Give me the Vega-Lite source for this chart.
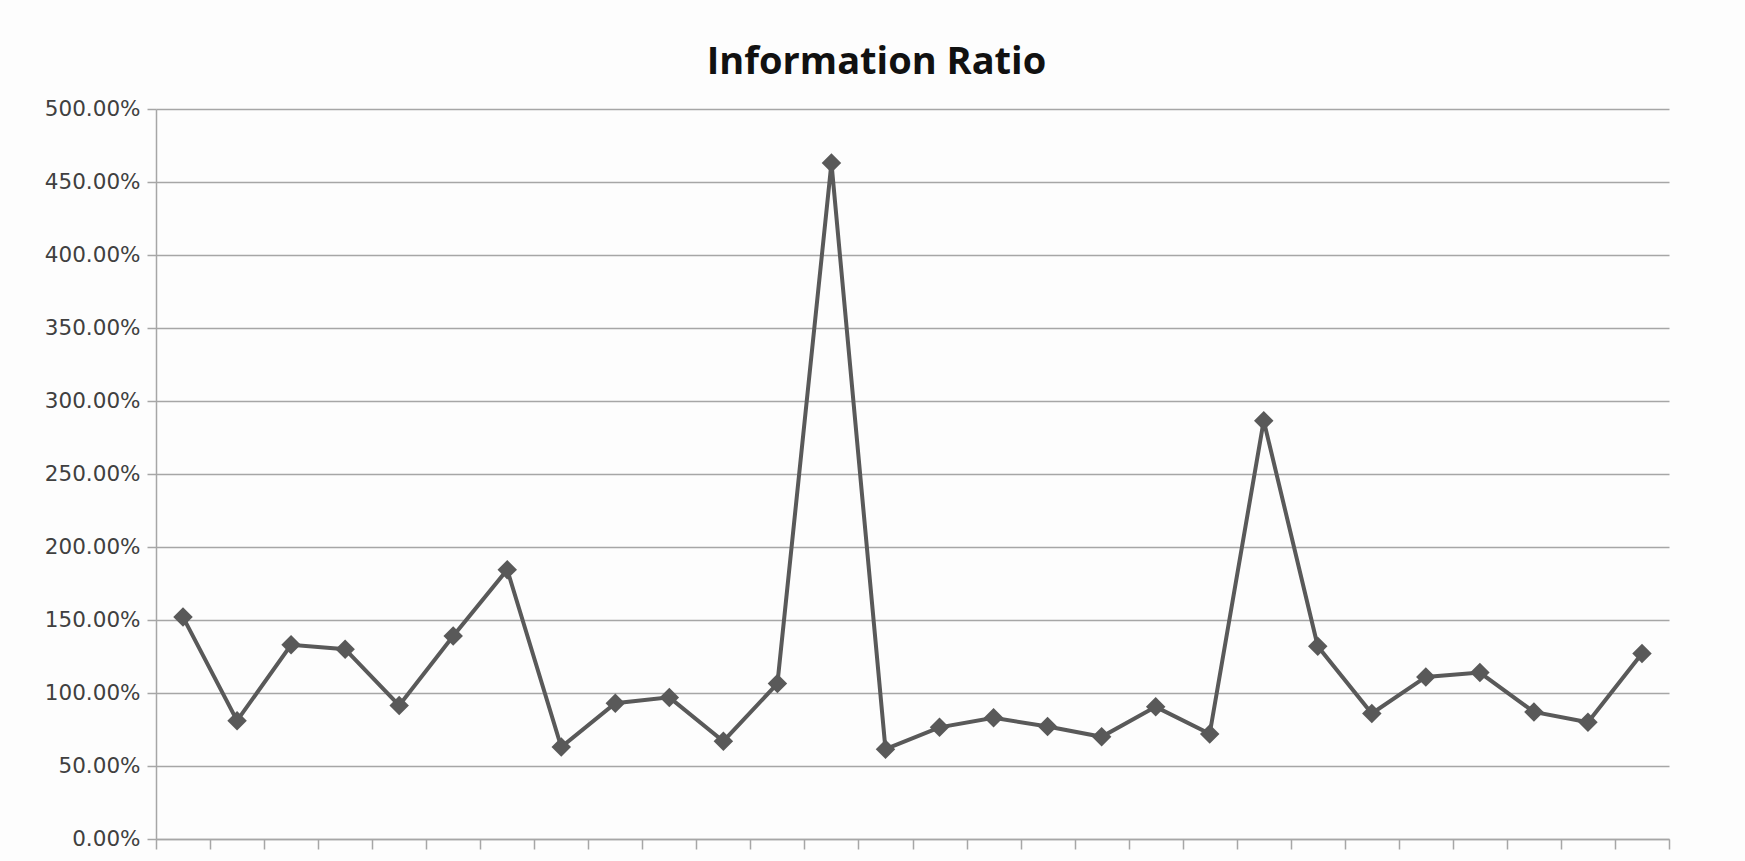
{
  "$schema": "https://vega.github.io/schema/vega-lite/v6.json",
  "width": 1513,
  "height": 730,
  "autosize": {"type": "none"},
  "padding": {"left": 156, "top": 109, "right": 76, "bottom": 22},
  "background": "#fdfdfd",
  "title": {
    "text": "Information Ratio",
    "font": "Open Sans",
    "fontSize": 38,
    "fontWeight": "bold",
    "color": "#111111",
    "anchor": "middle",
    "dx": -36,
    "offset": 16
  },
  "config": {
    "view": {"stroke": null},
    "axis": {"labelFont": "DejaVu Sans", "labelColor": "#404040", "domainColor": "#a6a6a6", "tickColor": "#a6a6a6", "gridColor": "#a6a6a6"}
  },
  "data": {
    "values": [
      {"i": 1, "v": 1.52}, {"i": 2, "v": 0.81}, {"i": 3, "v": 1.33}, {"i": 4, "v": 1.30},
      {"i": 5, "v": 0.915}, {"i": 6, "v": 1.39}, {"i": 7, "v": 1.845}, {"i": 8, "v": 0.63},
      {"i": 9, "v": 0.93}, {"i": 10, "v": 0.97}, {"i": 11, "v": 0.67}, {"i": 12, "v": 1.065},
      {"i": 13, "v": 4.63}, {"i": 14, "v": 0.615}, {"i": 15, "v": 0.765}, {"i": 16, "v": 0.83},
      {"i": 17, "v": 0.77}, {"i": 18, "v": 0.70}, {"i": 19, "v": 0.905}, {"i": 20, "v": 0.72},
      {"i": 21, "v": 2.865}, {"i": 22, "v": 1.32}, {"i": 23, "v": 0.86}, {"i": 24, "v": 1.11},
      {"i": 25, "v": 1.14}, {"i": 26, "v": 0.87}, {"i": 27, "v": 0.80}, {"i": 28, "v": 1.27}
    ]
  },
  "encoding": {
    "x": {
      "field": "i",
      "type": "quantitative",
      "scale": {"domain": [0.5, 28.5], "nice": false, "zero": false},
      "axis": {
        "title": null,
        "labels": false,
        "grid": false,
        "values": [0.5,1.5,2.5,3.5,4.5,5.5,6.5,7.5,8.5,9.5,10.5,11.5,12.5,13.5,14.5,15.5,16.5,17.5,18.5,19.5,20.5,21.5,22.5,23.5,24.5,25.5,26.5,27.5,28.5],
        "tickSize": 10,
        "tickWidth": 1.5,
        "domainWidth": 1.5
      }
    },
    "y": {
      "field": "v",
      "type": "quantitative",
      "scale": {"domain": [0, 5], "nice": false},
      "axis": {
        "title": null,
        "format": ".2%",
        "values": [0, 0.5, 1, 1.5, 2, 2.5, 3, 3.5, 4, 4.5, 5],
        "labelFontSize": 21.5,
        "labelPadding": 7,
        "tickSize": 9,
        "tickWidth": 1.5,
        "gridWidth": 1.5,
        "domainWidth": 1.5
      }
    }
  },
  "layer": [
    {"mark": {"type": "line", "color": "#595959", "strokeWidth": 4}},
    {"mark": {"type": "point", "shape": "diamond", "filled": true, "color": "#595959", "opacity": 1, "size": 380}}
  ]
}
